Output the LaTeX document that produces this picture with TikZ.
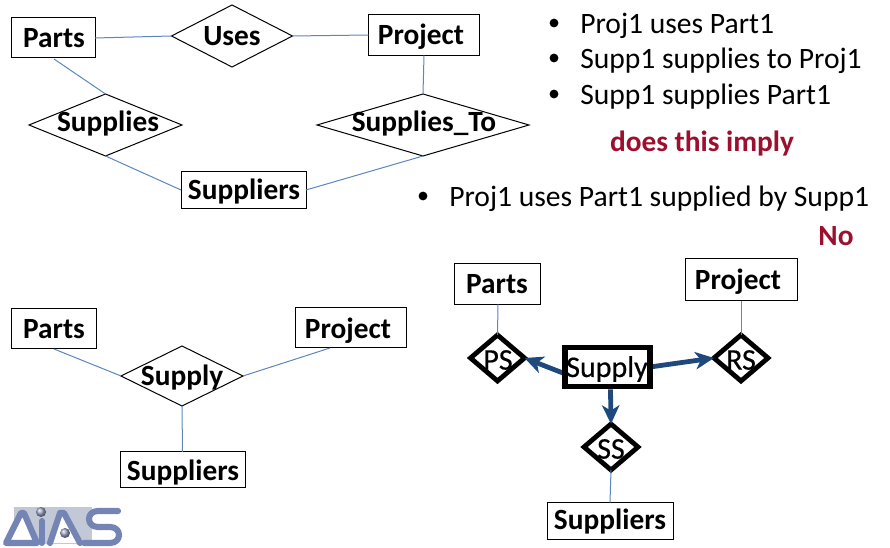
\documentclass[tikz,border=0pt]{standalone}
\usepackage{fontspec}
\setmainfont{Carlito}
\newfontfamily\semibd[FakeBold=0.5]{Carlito}
\usetikzlibrary{shapes.geometric,arrows.meta}
\definecolor{linkblue}{HTML}{5B86BE}
\definecolor{arrowblue}{HTML}{1F497D}
\definecolor{dark}{HTML}{9C0F2E}
\definecolor{logoA}{HTML}{7484B4}
\definecolor{logoB}{HTML}{C3C8D6}
\tikzset{
  x=0.75pt,y=-0.75pt,
  box/.style={draw=black,fill=white,line width=0.75pt,rectangle,minimum width=#1,inner sep=0pt,outer sep=0pt},
  rel/.style={draw=black,line width=0.75pt,shape aspect=1,diamond,inner sep=0pt,outer sep=0pt},
  lbl/.style={font=\fontsize{22}{26}\selectfont\bfseries,inner sep=0pt},
  lbr/.style={font=\semibd\fontsize{22.5}{26}\selectfont,inner sep=0pt},
  thk/.style={draw=black,line width=3.6pt,diamond,inner sep=0pt,outer sep=0pt},
  wire/.style={draw=linkblue,line width=0.75pt},
  heavy/.style={draw=arrowblue,line width=3.6pt,-{Stealth[length=14pt,width=13pt,inset=4pt]}},
  bul/.style={font=\fontsize{22.2}{26}\selectfont,anchor=west,inner sep=0pt},
  dot/.style={circle,fill=black,inner sep=0pt,minimum size=6.6pt},
  red/.style={font=\fontsize{22}{26}\selectfont\bfseries,text=dark,inner sep=0pt},
  logo/.style={draw=logoA,line width=4.6pt,line cap=round,line join=round}
}
\newcommand{\bx}[6]{\node[box=#4*0.75pt,minimum height=#5*0.75pt] (#1) at (#2,#3) {};}
\newcommand{\dm}[6]{\node[#6,minimum width=#4*0.75pt,minimum height=#5*0.75pt] (#1) at (#2,#3) {};}
\begin{document}
\begin{tikzpicture}
\useasboundingbox (0,0) rectangle (890,548);
% ER top
\bx{pa}{53}{38}{84}{40}{}
\bx{pr}{424}{35}{111}{41}{}
\bx{su}{243.5}{190}{125}{37}{}
\dm{uses}{232}{36}{121}{62}{rel}
\dm{sup}{105.5}{125}{153}{62}{rel}
\dm{supt}{423}{125}{212}{62}{rel}
\node[lbl] (tpa) at (54,38) {Parts};
\node[lbl] (tpr) at (421,37) {Project};
\node[lbl] (tsu) at (244,192) {Suppliers};
\node[lbl] (tuses) at (232,36) {Uses};
\node[lbl] (tsup) at (108,124) {Supplies};
\node[lbl] (tsupt) at (424,124) {Supplies\_To};
\draw[wire] (pa.east) -- (uses.west);
\draw[wire] (uses.east) -- (pr.west);
\coordinate (pab) at (54,59);
\draw[wire] (pab) -- (sup.north);
\draw[wire] (pr.south) -- (supt.north);
\draw[wire] (sup.south) -- (su.west);
\draw[wire] (supt.south) -- (su.east);
% bottom left
\bx{pa2}{53.5}{329}{85}{40}{}
\bx{pr2}{351}{328}{111}{40}{}
\bx{su2}{182.5}{470}{125}{36}{}
\dm{sy}{182}{376}{122}{60}{rel}
\node[lbl] (tpa2) at (54,329) {Parts};
\node[lbl] (tpr2) at (348,331) {Project};
\node[lbl] (tsu2) at (183,473) {Suppliers};
\node[lbl] (tsy) at (182,378) {Supply};
\coordinate (pa2b) at (54,349);
\coordinate (pr2b) at (330,348);
\draw[wire] (pa2b) -- (sy.west);
\draw[wire] (sy.east) -- (pr2b);
\draw[wire] (sy.south) -- (su2.north);
% bottom right
\bx{pa3}{497}{284}{86}{41}{}
\bx{pr3}{741}{280}{112}{42}{}
\bx{su3}{610}{521}{126}{37}{}
\dm{ps}{497.5}{358}{54}{46}{thk}
\dm{rs}{741}{358}{54}{46}{thk}
\dm{ss}{611}{447}{54}{46}{thk}
\coordinate (a1) at (568,375);
\coordinate (a2) at (650,367);
\draw[heavy] (a1) -- (ps.east);
\draw[heavy] (a2) -- (rs.west);
\node[draw=black,line width=4.2pt,minimum width=85*0.75pt,minimum height=39*0.75pt,inner sep=0pt] (sb) at (607.5,367) {};
\draw[heavy] (sb.south) ++(3,0) -- (ss.north);
\node[lbl] (tpa3) at (497,284) {Parts};
\node[lbl] (tpr3) at (738,282) {Project};
\node[lbl] (tsu3) at (610,522) {Suppliers};
\node[lbr] (tsb) at (607,369) {Supply};
\node[lbr] (tps) at (498,360) {PS};
\node[lbr] (trs) at (741,360) {RS};
\node[lbr] (tss) at (611,449) {SS};
\draw[wire] (pa3.south) ++(1,0) -- (ps.north);
\draw[wire] (pr3.south) -- (rs.north);
\draw[wire] (ss.south) -- (su3.north);
% bullets
\node[dot] (d1) at (554,23) {};
\node[dot] (d2) at (554,58) {};
\node[dot] (d3) at (554,94) {};
\node[bul] (b1) at (580,26) {Proj1 uses Part1};
\node[bul] (b2) at (580,61) {Supp1 supplies to Proj1};
\node[bul] (b3) at (580,97) {Supp1 supplies Part1};
\node[red] (r1) at (702,144) {does this imply};
\node[dot] (d4) at (423,196) {};
\node[bul] (b4) at (449,199) {Proj1 uses Part1 supplied by Supp1};
\node[red] (r2) at (836,236) {No};
% logo
\fill[logoB] (14,507) rectangle (92,544);
\filldraw[logo,fill=white] (6,543) -- (21,513) -- (24,513) -- (37,543) -- cycle;
\draw[logo] (42,521) -- (42,543);
\filldraw[logo,fill=white] (50,543) -- (60,513) -- (64,513) -- (80,543);
\draw[logo] (118,511) -- (98,511) .. controls (86,511) and (86,527) .. (98,527) -- (110,527) .. controls (122,527) and (122,543) .. (110,543) -- (84,543);
\shade[ball color=logoA!70] (41,512) circle (5);
\shade[ball color=logoA!70] (65,533) circle (5);
\end{tikzpicture}
\end{document}
